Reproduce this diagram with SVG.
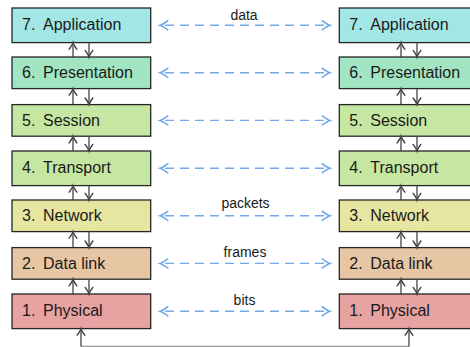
<svg xmlns="http://www.w3.org/2000/svg" width="470" height="347" viewBox="0 0 470 347">
  <defs>
    <style>
      .box { stroke: #262626; stroke-width: 1.3; }
      .lbl { font-family: "Liberation Sans", Arial, sans-serif; font-size: 16px; fill: #1a1a1a; }
      .peer { stroke: #72a9ea; stroke-width: 1.4; stroke-dasharray: 9 6; stroke-dashoffset: 10; fill: none; marker-start: url(#bh); marker-end: url(#bh); }
      .stack { stroke: #444; stroke-width: 1.3; fill: none; marker-end: url(#gh); }
      .plbl { font-family: "Liberation Sans", Arial, sans-serif; font-size: 14px; fill: #1a1a1a; text-anchor: middle; }
      .l7 { fill: #a2e7e6; } .l6 { fill: #a2e5c2; } .l5 { fill: #c6e7a1; } .l4 { fill: #c6e7a1; }
      .l3 { fill: #e7e6a1; } .l2 { fill: #e7c6a3; } .l1 { fill: #e7a2a2; }
    </style>
    <marker id="bh" markerUnits="userSpaceOnUse" markerWidth="12" markerHeight="12" viewBox="-8 -5 10 10" refX="0" refY="0" orient="auto-start-reverse" overflow="visible">
      <path d="M-6.5,-3.8 Q-2,-0.6 0,0 Q-2,0.6 -6.5,3.8" fill="none" stroke="#72a9ea" stroke-width="1.3" stroke-linecap="round"/>
    </marker>
    <marker id="gh" markerUnits="userSpaceOnUse" markerWidth="12" markerHeight="12" viewBox="-8 -5 10 10" refX="0" refY="0" orient="auto" overflow="visible">
      <path d="M-5.5,-3.2 Q-1.8,-0.5 0,0 Q-1.8,0.5 -5.5,3.2" fill="none" stroke="#444" stroke-width="1.2" stroke-linecap="round"/>
    </marker>
  </defs>

  <rect width="470" height="347" fill="#ffffff"/>

  <!-- left stack -->
  <g id="a7"><rect class="box l7" x="12" y="8" width="138.7" height="34.6"/><text class="lbl" y="30.3"><tspan x="22">7.</tspan><tspan x="43">Application</tspan></text></g>
  <g id="a6"><rect class="box l6" x="12" y="57" width="138.7" height="31.6"/><text class="lbl" y="78"><tspan x="22">6.</tspan><tspan x="43">Presentation</tspan></text></g>
  <g id="a5"><rect class="box l5" x="12" y="104.6" width="138.7" height="31.6"/><text class="lbl" y="125.6"><tspan x="22">5.</tspan><tspan x="43">Session</tspan></text></g>
  <g id="a4"><rect class="box l4" x="12" y="151" width="138.7" height="34.6"/><text class="lbl" y="173.3"><tspan x="22">4.</tspan><tspan x="43">Transport</tspan></text></g>
  <g id="a3"><rect class="box l3" x="12" y="200" width="138.7" height="31.6"/><text class="lbl" y="221"><tspan x="22">3.</tspan><tspan x="43">Network</tspan></text></g>
  <g id="a2"><rect class="box l2" x="12" y="247.6" width="138.7" height="31.6"/><text class="lbl" y="268.6"><tspan x="22">2.</tspan><tspan x="43">Data link</tspan></text></g>
  <g id="a1"><rect class="box l1" x="12" y="294" width="138.7" height="34.6"/><text class="lbl" y="316.3"><tspan x="22">1.</tspan><tspan x="43">Physical</tspan></text></g>

  <!-- right stack -->
  <g id="b7"><rect class="box l7" x="339.3" y="8" width="138.7" height="34.6"/><text class="lbl" y="30.3"><tspan x="349.3">7.</tspan><tspan x="370.3">Application</tspan></text></g>
  <g id="b6"><rect class="box l6" x="339.3" y="57" width="138.7" height="31.6"/><text class="lbl" y="78"><tspan x="349.3">6.</tspan><tspan x="370.3">Presentation</tspan></text></g>
  <g id="b5"><rect class="box l5" x="339.3" y="104.6" width="138.7" height="31.6"/><text class="lbl" y="125.6"><tspan x="349.3">5.</tspan><tspan x="370.3">Session</tspan></text></g>
  <g id="b4"><rect class="box l4" x="339.3" y="151" width="138.7" height="34.6"/><text class="lbl" y="173.3"><tspan x="349.3">4.</tspan><tspan x="370.3">Transport</tspan></text></g>
  <g id="b3"><rect class="box l3" x="339.3" y="200" width="138.7" height="31.6"/><text class="lbl" y="221"><tspan x="349.3">3.</tspan><tspan x="370.3">Network</tspan></text></g>
  <g id="b2"><rect class="box l2" x="339.3" y="247.6" width="138.7" height="31.6"/><text class="lbl" y="268.6"><tspan x="349.3">2.</tspan><tspan x="370.3">Data link</tspan></text></g>
  <g id="b1"><rect class="box l1" x="339.3" y="294" width="138.7" height="34.6"/><text class="lbl" y="316.3"><tspan x="349.3">1.</tspan><tspan x="370.3">Physical</tspan></text></g>

  <g id="connectors">
    <!-- peer-to-peer links -->
    <path class="peer" d="M160,25.3 H330"/>
    <path class="peer" d="M160,72.8 H330"/>
    <path class="peer" d="M160,120.4 H330"/>
    <path class="peer" d="M160,168.3 H330"/>
    <path class="peer" d="M160,215.8 H330"/>
    <path class="peer" d="M160,263.4 H330"/>
    <path class="peer" d="M160,311.3 H330"/>
    <text class="plbl" x="244" y="20">data</text>
    <text class="plbl" x="245.5" y="208">packets</text>
    <text class="plbl" x="245" y="257">frames</text>
    <text class="plbl" x="244.5" y="305">bits</text>

    <!-- left stack: up and down -->
    <path class="stack" d="M73,57 V42.6"/><path class="stack" d="M89,42.6 V57"/>
    <path class="stack" d="M73,104.6 V88.6"/><path class="stack" d="M89,88.6 V104.6"/>
    <path class="stack" d="M73,151 V136.2"/><path class="stack" d="M89,136.2 V151"/>
    <path class="stack" d="M73,200 V185.6"/><path class="stack" d="M89,185.6 V200"/>
    <path class="stack" d="M73,247.6 V231.6"/><path class="stack" d="M89,231.6 V247.6"/>
    <path class="stack" d="M73,294 V279.2"/><path class="stack" d="M89,279.2 V294"/>

    <!-- right stack: up and down -->
    <path class="stack" d="M401,57 V42.6"/><path class="stack" d="M417,42.6 V57"/>
    <path class="stack" d="M401,104.6 V88.6"/><path class="stack" d="M417,88.6 V104.6"/>
    <path class="stack" d="M401,151 V136.2"/><path class="stack" d="M417,136.2 V151"/>
    <path class="stack" d="M401,200 V185.6"/><path class="stack" d="M417,185.6 V200"/>
    <path class="stack" d="M401,247.6 V231.6"/><path class="stack" d="M417,231.6 V247.6"/>
    <path class="stack" d="M401,294 V279.2"/><path class="stack" d="M417,279.2 V294"/>

    <!-- physical medium between the two hosts -->
    <path d="M81,346.4 H409" stroke="#9a9a9a" stroke-width="1.3" fill="none"/>
    <path class="stack" d="M81,346.4 V328.6"/>
    <path class="stack" d="M409,346.4 V328.6"/>
  </g>
</svg>
